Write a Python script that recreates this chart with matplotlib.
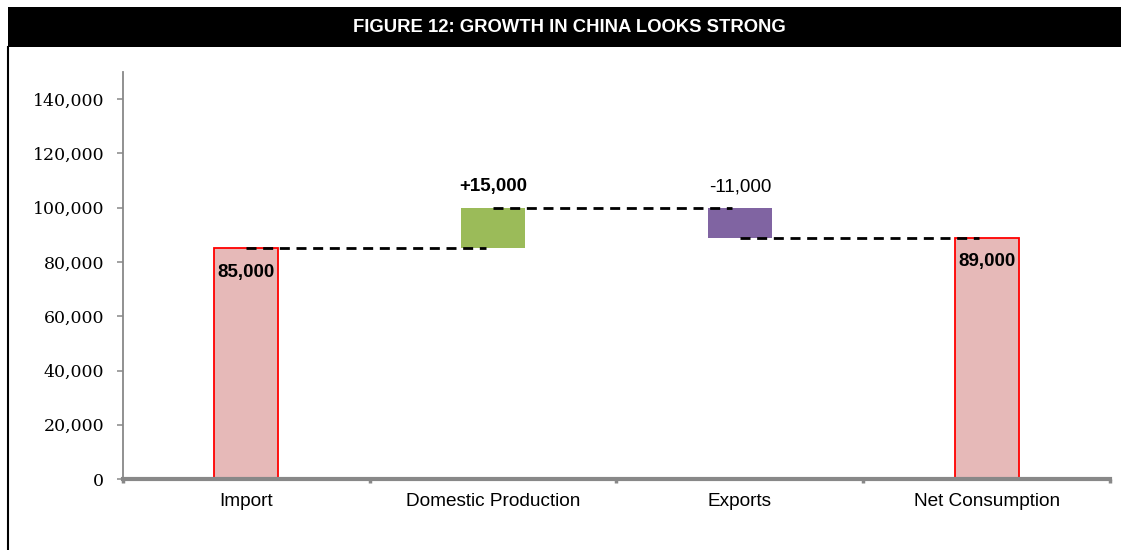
import matplotlib.pyplot as plt
from matplotlib.patches import Rectangle
from matplotlib.lines import Line2D
from matplotlib.ticker import StrMethodFormatter

categories = ["Import", "Domestic Production", "Exports", "Net Consumption"]
values = [85000, 15000, -11000, 89000]
value_labels = ["85,000", "+15,000", "-11,000", "89,000"]
label_bold = [True, True, False, True]
colors = ["#E6B9B8", "#9BBB59", "#8064A2", "#E6B9B8"]
edges = ["#FF0000", "none", "none", "#FF0000"]
title = "FIGURE 12: GROWTH IN CHINA LOOKS STRONG"


def main():
    # waterfall: first and last are totals, middle ones float
    bottoms, heights, levels = [], [], []
    running = 0
    for i, v in enumerate(values):
        if i == 0 or i == len(values) - 1:
            bottoms.append(0)
            heights.append(v)
            running = v
        else:
            bottoms.append(running + min(v, 0))
            heights.append(abs(v))
            running += v
        levels.append(running)

    fig = plt.figure(figsize=(11.21, 5.5), dpi=100)
    ax = fig.add_axes([0.1097, 0.129, 0.8805, 0.740])

    x = list(range(len(categories)))
    ax.bar(x, heights, bottom=bottoms, width=0.26, color=colors,
           edgecolor=edges, linewidth=1.3, zorder=2)

    # dashed connectors between bars
    for i in range(len(categories) - 1):
        ax.plot([i, i + 0.97], [levels[i], levels[i]], color="black",
                linestyle=(0, (3.6, 2.4)), linewidth=2, zorder=3)

    for i, lab in enumerate(value_labels):
        top = bottoms[i] + heights[i]
        if i == 0 or i == len(values) - 1:
            off = -17
        else:
            off = 15
        ax.annotate(lab, (i, top), xytext=(0, off), textcoords="offset points",
                    ha="center", va="center", fontsize=13.5,
                    fontweight="bold" if label_bold[i] else "normal",
                    family="Liberation Sans", zorder=4)

    ax.set_xlim(-0.5, 3.5)
    ax.set_ylim(0, 150000)
    ax.set_yticks(range(0, 140001, 20000))
    ax.yaxis.set_major_formatter(StrMethodFormatter("{x:,.0f}"))
    for t in ax.get_yticklabels():
        t.set_family("DejaVu Serif")
        t.set_fontsize(12.5)
    ax.tick_params(axis="y", direction="out", length=4.5, width=1.1,
                   color="#888888", pad=9)

    ax.set_xticks([-0.5, 0.5, 1.5, 2.5, 3.5])
    ax.set_xticklabels([])
    ax.tick_params(axis="x", which="major", direction="out", length=3,
                   width=2.5, color="#888888")
    ax.set_xticks(x, minor=True)
    ax.set_xticklabels(categories, minor=True, fontsize=13.7,
                       family="Liberation Sans")
    ax.tick_params(axis="x", which="minor", length=0, pad=10)

    for s in ["top", "right"]:
        ax.spines[s].set_visible(False)
    ax.spines["left"].set_color("#888888")
    ax.spines["left"].set_linewidth(1.3)
    ax.spines["bottom"].set_color("#888888")
    ax.spines["bottom"].set_linewidth(3)

    # black title band and left border line
    fig.patches.append(Rectangle((8 / 1121, 1 - 47 / 550), 1, 40 / 550,
                                 transform=fig.transFigure, facecolor="black",
                                 edgecolor="none"))
    fig.lines.append(Line2D([8 / 1121, 8 / 1121], [0, 1 - 47 / 550],
                            transform=fig.transFigure, color="black",
                            linewidth=1.5))
    fig.text(569 / 1121, 1 - 28 / 550, title, color="white", fontsize=13.3,
             fontweight="bold", family="Liberation Sans", ha="center",
             va="center")

    plt.savefig("out.png", dpi=100)


if __name__ == '__main__':
    main()
